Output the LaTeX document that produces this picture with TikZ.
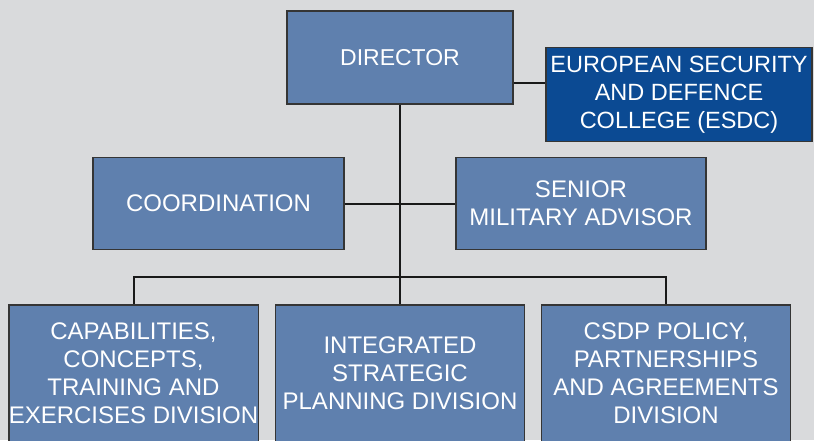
\documentclass[tikz,border=0pt]{standalone}
\usepackage{fontspec}
\setmainfont{Liberation Sans}
\definecolor{pagegray}{HTML}{D9DADC}
\definecolor{unitblue}{HTML}{5F80AE}
\definecolor{collegeblue}{HTML}{0B4A93}
\definecolor{edgegray}{HTML}{353535}
\tikzset{
	unit/.style={draw=edgegray, line width=1.4pt, fill=unitblue, text=white, align=center,
		inner sep=0pt, font=\fontsize{24}{28}\selectfont},
	college/.style={unit, fill=collegeblue, font=\fontsize{23.5}{28}\selectfont},
	link/.style={line width=2pt, black!90}
}
\begin{document}
\begin{tikzpicture}[x=1pt,y=1pt]
	
	\fill[pagegray] (0,0) rectangle (814,-440);
	\useasboundingbox (0,0) rectangle (814,-440);
	
	\node[unit, minimum width=226pt, minimum height=93pt, font=\fontsize{23}{28}\selectfont] (dir) at (400,-57.5) {DIRECTOR};
	\node[college, minimum width=266pt, minimum height=94pt] (esdc) at (679,-94.3) {EUROPEAN SECURITY\\AND DEFENCE\\COLLEGE (ESDC)};
	\node[unit, minimum width=251pt, minimum height=92pt] (coord) at (218.5,-203.5) {COORDINATION};
	\node[unit, minimum width=250pt, minimum height=92pt] (sma) at (581,-203.5) {SENIOR\\MILITARY ADVISOR};
	
	\node[unit, minimum width=249pt, minimum height=137pt] (cap) at (133.5,-373.5) {CAPABILITIES,\\CONCEPTS,\\TRAINING AND\\EXERCISES DIVISION};
	\node[unit, minimum width=249pt, minimum height=137pt] (isp) at (400,-373.5) {INTEGRATED\\STRATEGIC\\PLANNING DIVISION};
	\node[unit, minimum width=249pt, minimum height=137pt] (csdp) at (666,-373.5) {CSDP POLICY,\\PARTNERSHIPS\\AND AGREEMENTS\\DIVISION};
	
	\coordinate (bus) at (400,-276.5);
	\draw[link] ([yshift=-25.5pt]dir.east) -- ([yshift=-25.5pt]dir.east -| esdc.west);
	\draw[link] (dir.south) -- (isp.north);
	\draw[link] (coord.east) -- (sma.west);
	\draw[link] (cap.north) -- (cap.north |- bus) -- (csdp.north |- bus) -- (csdp.north);
	\end{tikzpicture}
\end{document}
